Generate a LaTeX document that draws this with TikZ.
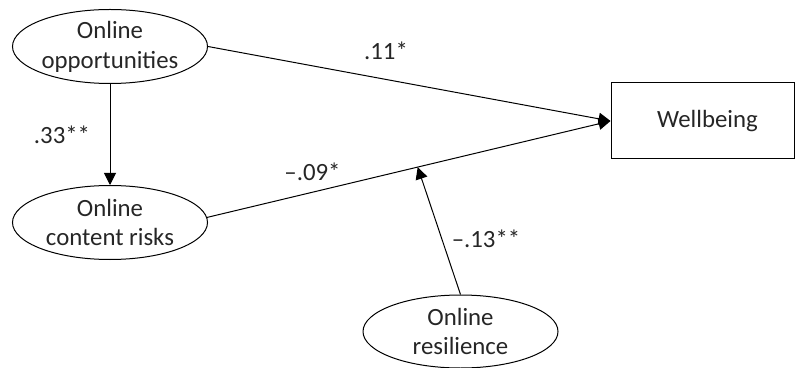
\documentclass[tikz,border=0pt]{standalone}
\usepackage{fontspec}
\setmainfont{Carlito}
\usetikzlibrary{shapes.geometric,arrows.meta,calc}
\tikzset{
  latent/.style={ellipse,draw,line width=0.5pt,minimum width=97.5pt,minimum height=37pt,inner sep=0pt,align=center,text=black!85},
  outbox/.style={rectangle,draw,line width=0.5pt,minimum width=91.5pt,minimum height=38pt,inner sep=0pt,text=black!85},
  path/.style={line width=0.5pt,-{Triangle[length=6pt,width=6pt]}},
  coef/.style={text=black!85,inner sep=0pt}
}
\begin{document}
\begin{tikzpicture}[x=0.5pt,y=-0.5pt,font=\fontsize{12.4}{14.9}\selectfont]
\useasboundingbox (0,0) rectangle (795,368);
\node[latent] (A) at (110,46.5) {Online\\opportunities};
\node[latent] (B) at (110,222.5) {Online\\content risks};
\node[latent,minimum height=36.5pt] (C) at (460.5,331.5) {Online\\resilience};
\node[outbox] (W) at (702.5,121) {\hspace*{5pt}Wellbeing};
\draw[path] (A.south) -- (B.north);
\draw[path] (A.east) -- (W.west);
\draw[path] (B.3) -- (W.west);
\coordinate (M) at ($(B.3)!0.522!(W.west)$);
\draw[path] (C.north) -- (M);
\node[coef] (l11) at (386,51) {.11*};
\node[coef] (l09) at (312.5,172) {--.09*};
\node[coef] (l33) at (62,135) {.33**};
\node[coef] (l13) at (486,239) {--.13**};
\end{tikzpicture}
\end{document}
